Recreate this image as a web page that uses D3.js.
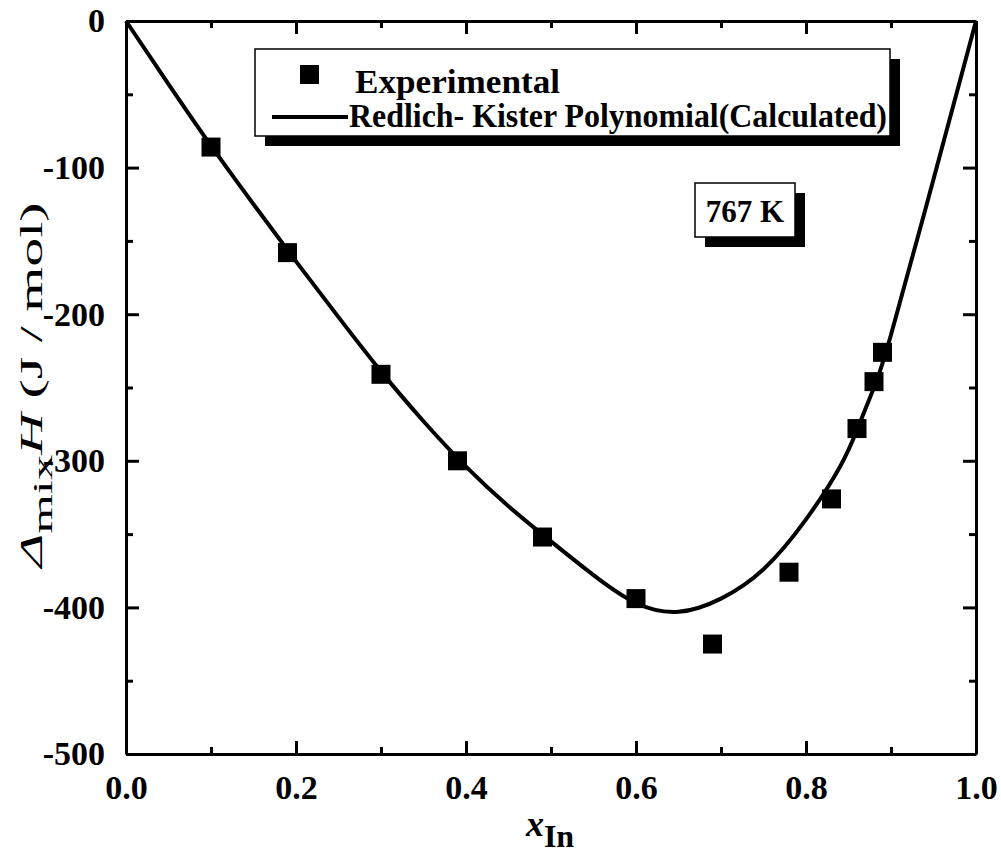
<!DOCTYPE html>
<html>
<head>
<meta charset="utf-8">
<script src="https://cdnjs.cloudflare.com/ajax/libs/d3/7.8.5/d3.min.js"></script>
<style>
  html, body { margin: 0; padding: 0; background: #fff; }
  .axis path, .axis line { stroke: #000; stroke-width: 3; }
</style>
</head>
<body>
<svg id="chart" width="1001" height="859"></svg>
<script>
// Experimental points (mole fraction of In, enthalpy of mixing J/mol).
var expX = [0.10, 0.19, 0.30, 0.39, 0.49, 0.60, 0.69, 0.78, 0.83, 0.86, 0.88, 0.89];
var expH = [-86, -158, -241, -300, -352, -394, -425, -376, -326, -278, -246, -226];

// Calculated Redlich-Kister curve.
var calcX = [0, 0.05, 0.10, 0.15, 0.20, 0.25, 0.30, 0.35, 0.40, 0.45, 0.50,
  0.55, 0.60, 0.65, 0.70, 0.75, 0.80, 0.84, 0.86, 0.88, 0.90, 0.95, 1.0];
var calcH = [0, -43, -85, -125, -164, -202, -239, -273, -304, -331, -355,
  -378, -397, -403, -394, -374, -340, -304, -279, -250, -214, -108, 0];

var xTicks = [0, 0.2, 0.4, 0.6, 0.8, 1.0];
var xMinorTicks = [0.1, 0.3, 0.5, 0.7, 0.9];
var yTicks = [0, -100, -200, -300, -400, -500];
var yMinorTicks = [-50, -150, -250, -350, -450];

var legendLabels = ['Experimental', 'Redlich- Kister Polynomial(Calculated)'];
var tempLabel = '767 K';

var SERIF = '"Liberation Serif"';
var margin = {left: 126, right: 25, top: 21, bottom: 105};
var svg = d3.select('#chart');
var width = +svg.attr('width');
var height = +svg.attr('height');

var x = d3.scaleLinear().domain([0, 1]).range([margin.left, width - margin.right]);
var y = d3.scaleLinear().domain([-500, 0]).range([height - margin.bottom, margin.top]);

var MAJOR = 13;
var MINOR = 7;

/**
 * Draws one axis with inward major and minor ticks.
 */
function drawAxis(axisFn, scale, transform, major, minor, labels, fmt) {
  var g = svg.append('g').attr('class', 'axis').attr('transform', transform);
  g.call(axisFn(scale).tickValues(minor).tickSize(-MINOR).tickFormat(''))
    .select('.domain').remove();
  var gm = svg.append('g').attr('class', 'axis').attr('transform', transform);
  gm.call(axisFn(scale).tickValues(major).tickSizeInner(-MAJOR)
    .tickSizeOuter(0).tickPadding(MAJOR + 8)
    .tickFormat(labels ? fmt : ''));
  gm.selectAll('text')
    .style('font-family', SERIF)
    .style('font-weight', 'bold')
    .style('font-size', '34px')
    .attr('fill', '#000');
  return gm;
}

var fmtX = d3.format('.1f');
var fmtY = function(d) { return String(d); };

drawAxis(d3.axisBottom, x, 'translate(0,' + y(-500) + ')', xTicks, xMinorTicks, true, fmtX)
  .selectAll('text').attr('dy', '0.72em');
drawAxis(d3.axisTop, x, 'translate(0,' + y(0) + ')', xTicks, xMinorTicks, false);
drawAxis(d3.axisLeft, y, 'translate(' + x(0) + ',0)', yTicks, yMinorTicks, true, fmtY);
drawAxis(d3.axisRight, y, 'translate(' + x(1) + ',0)', yTicks, yMinorTicks, false);

// calculated curve
var line = d3.line()
  .x(function(d, i) { return x(calcX[i]); })
  .y(function(d) { return y(d); })
  .curve(d3.curveNatural);

svg.append('path')
  .attr('d', line(calcH))
  .attr('fill', 'none')
  .attr('stroke', '#000')
  .attr('stroke-width', 4);

// experimental squares
var SQ = 19;
svg.append('g').selectAll('rect')
  .data(expH)
  .join('rect')
  .attr('x', function(d, i) { return x(expX[i]) - SQ / 2; })
  .attr('y', function(d) { return y(d) - SQ / 2; })
  .attr('width', SQ)
  .attr('height', SQ)
  .attr('fill', '#000');

/**
 * Box with a drop shadow, Origin style.
 */
function shadowBox(bx, by, bw, bh) {
  svg.append('rect').attr('x', bx + 10).attr('y', by + 10)
    .attr('width', bw).attr('height', bh).attr('fill', '#000');
  svg.append('rect').attr('x', bx).attr('y', by)
    .attr('width', bw).attr('height', bh)
    .attr('fill', '#fff').attr('stroke', '#000').attr('stroke-width', 1.5);
}

function label(tx, ty, size) {
  return svg.append('text').attr('x', tx).attr('y', ty)
    .style('font-family', SERIF).style('font-size', size + 'px')
    .style('font-weight', 'bold').attr('fill', '#000');
}

// legend
shadowBox(255, 49, 635, 87);
svg.append('rect').attr('x', 300).attr('y', 65).attr('width', SQ).attr('height', SQ)
  .attr('fill', '#000');
svg.append('line').attr('x1', 272).attr('x2', 348).attr('y1', 117).attr('y2', 117)
  .attr('stroke', '#000').attr('stroke-width', 4);
label(355, 93, 33)
  .attr('textLength', 205).attr('lengthAdjust', 'spacingAndGlyphs')
  .text(legendLabels[0]);
label(349, 127, 33)
  .attr('textLength', 538).attr('lengthAdjust', 'spacingAndGlyphs')
  .text(legendLabels[1]);

// temperature label
shadowBox(695, 183, 100, 54);
label(745, 222, 31).attr('text-anchor', 'middle').text(tempLabel);

// x axis title
var xt = label(550, 836, 36).attr('text-anchor', 'middle');
xt.append('tspan').style('font-style', 'italic').text('x');
xt.append('tspan').attr('dy', 11).style('font-size', '32px').text('In');

// y axis title, stretched along its baseline like the original
var yt = label(0, 0, 32).attr('text-anchor', 'middle')
  .style('font-weight', 'normal');
yt.append('tspan').style('font-style', 'italic').text('\u0394');
yt.append('tspan').attr('dy', 10).style('font-size', '28px').text('mix');
yt.append('tspan').attr('dy', -10).style('font-style', 'italic').text('H');
yt.append('tspan').text(' (J / mol)');
var yLen = yt.node().getComputedTextLength() || 200;
yt.attr('transform', 'translate(42,385) rotate(-90) scale(' + (365 / yLen) + ',1)');
</script>
</body>
</html>
